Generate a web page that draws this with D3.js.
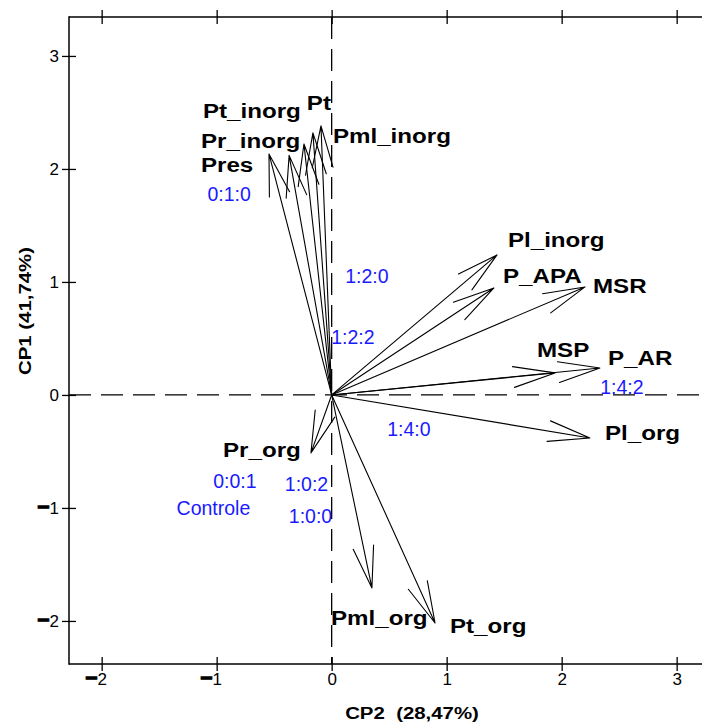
<!DOCTYPE html>
<html>
<head>
<meta charset="utf-8">
<script src="https://cdn.jsdelivr.net/npm/d3@7"></script>
<style>
  html, body { margin: 0; padding: 0; background: #ffffff; }
  svg { display: block; }
  text { font-family: "Liberation Sans", Arial, Helvetica, sans-serif; }
</style>
</head>
<body>
<svg id="chart" width="702" height="725"></svg>
<script>
// Variables (arrows): loadings on CP2 (horizontal) and CP1 (vertical)
const variables = ["Pres", "Pr_inorg", "Pt_inorg", "Pml_inorg", "Pt",
                   "Pl_inorg", "P_APA", "MSR", "MSP", "P_AR",
                   "Pl_org", "Pr_org", "Pml_org", "Pt_org"];
const loadCP2 = [-0.545, -0.37, -0.241, -0.163, -0.093,
                 1.438, 1.411, 2.203, 1.942, 2.333,
                 2.246, -0.18, 0.35, 0.899];
const loadCP1 = [2.133, 2.12, 2.221, 2.319, 2.381,
                 1.239, 0.947, 0.956, 0.195, 0.239,
                 -0.381, -0.513, -1.708, -2.018];
// Where each variable name sits (start of text, baseline), in plot units
const nameCP2 = [-1.137, -1.137, -1.119, 0.011, -0.216,
                 1.533, 1.49, 2.272, 1.785, 2.403,
                 2.377, -0.945, -0.006, 1.029];
const nameCP1 = [1.973, 2.186, 2.451, 2.23, 2.522,
                 1.31, 0.991, 0.903, 0.336, 0.265,
                 -0.398, -0.549, -2.035, -2.106];

// Treatments (scores), labelled at their position
const treatments = ["0:1:0", "1:2:0", "1:2:2", "1:4:2", "1:4:0",
                    "0:0:1", "1:0:2", "Controle", "1:0:0"];
const scoreCP2 = [-0.892, 0.307, 0.185, 2.524, 0.672,
                  -0.841, -0.219, -1.028, -0.184];
const scoreCP1 = [1.779, 1.053, 0.513, 0.071, -0.301,
                  -0.761, -0.788, -1.0, -1.071];

const xTicks = [-2, -1, 0, 1, 2, 3];
const yTicks = [-2, -1, 0, 1, 2, 3];
const xTitle = "CP2  (28,47%)";
const yTitle = "CP1 (41,74%)";

// ---- layout ----
const svg = d3.select("#chart");
const plotLeft = 69, plotTop = 17, plotBottom = 664;
const unitX = 115, unitY = 113;
const xMin = -2.284, xMax = 3.45;
const yMin = -2.381, yMax = 3.345;

const x = d3.scaleLinear().domain([xMin, xMax])
  .range([plotLeft, plotLeft + (xMax - xMin) * unitX]);
const y = d3.scaleLinear().domain([yMin, yMax])
  .range([plotBottom, plotBottom - (yMax - yMin) * unitY]);

const rightEdge = x(xMax);

// Dashed reference lines through the origin
svg.append("line")
  .attr("x1", x(0)).attr("x2", x(0))
  .attr("y1", plotTop).attr("y2", plotBottom)
  .attr("stroke", "#000").attr("stroke-width", 1.3)
  .attr("stroke-dasharray", "22,10");
svg.append("line")
  .attr("x1", plotLeft).attr("x2", rightEdge)
  .attr("y1", y(0)).attr("y2", y(0))
  .attr("stroke", "#000").attr("stroke-width", 1.3)
  .attr("stroke-dasharray", "22,10");

// Frame: left, top and bottom edges
const frame = svg.append("g").attr("stroke", "#000").attr("stroke-width", 1.5);
frame.append("line").attr("x1", plotLeft).attr("x2", plotLeft)
  .attr("y1", plotTop - 0.75).attr("y2", plotBottom + 0.75);
frame.append("line").attr("x1", plotLeft).attr("x2", rightEdge)
  .attr("y1", plotTop).attr("y2", plotTop);
frame.append("line").attr("x1", plotLeft).attr("x2", rightEdge)
  .attr("y1", plotBottom).attr("y2", plotBottom);

// Tick label with a heavy minus sign
function signedLabel(sel) {
  sel.each(function (d) {
    const t = d3.select(this);
    t.text(null);
    if (d < 0) t.append("tspan").attr("font-weight", "bold")
      .attr("font-size", 21).attr("stroke", "#000").attr("stroke-width", 1.2)
      .text("\u2212");
    t.append("tspan").text(Math.abs(d));
  });
}

function styleAxis(g) {
  g.select(".domain").remove();
  g.selectAll(".tick line").attr("stroke", "#000").attr("stroke-width", 1.3);
  g.selectAll(".tick text").attr("fill", "#000")
    .attr("font-size", 17)
    .attr("font-family", "'Liberation Sans', Arial, sans-serif");
}

const tick = 7;
// bottom: labelled ticks crossing the frame
const gB = svg.append("g").attr("transform", `translate(0,${plotBottom})`)
  .call(d3.axisBottom(x).tickValues(xTicks).tickSizeInner(tick).tickSizeOuter(0).tickPadding(2))
  .call(styleAxis);
gB.selectAll(".tick text").attr("text-anchor", "end").attr("x", 4.8).call(signedLabel);
svg.append("g").attr("transform", `translate(0,${plotBottom})`)
  .call(d3.axisTop(x).tickValues(xTicks).tickSizeInner(tick).tickSizeOuter(0).tickFormat(""))
  .call(styleAxis);
// top: ticks only
svg.append("g").attr("transform", `translate(0,${plotTop})`)
  .call(d3.axisTop(x).tickValues(xTicks).tickSizeInner(tick).tickSizeOuter(0).tickFormat(""))
  .call(styleAxis);
svg.append("g").attr("transform", `translate(0,${plotTop})`)
  .call(d3.axisBottom(x).tickValues(xTicks).tickSizeInner(tick).tickSizeOuter(0).tickFormat(""))
  .call(styleAxis);
// left: labelled ticks crossing the frame
const gL = svg.append("g").attr("transform", `translate(${plotLeft},0)`)
  .call(d3.axisLeft(y).tickValues(yTicks).tickSizeInner(tick).tickSizeOuter(0).tickPadding(3))
  .call(styleAxis);
gL.selectAll(".tick text").call(signedLabel);
svg.append("g").attr("transform", `translate(${plotLeft},0)`)
  .call(d3.axisRight(y).tickValues(yTicks).tickSizeInner(tick).tickSizeOuter(0).tickFormat(""))
  .call(styleAxis);

// Axis titles
svg.append("text")
  .attr("transform", `translate(412,719) scale(1.2,1)`)
  .attr("text-anchor", "middle")
  .attr("font-size", 17).attr("font-weight", "bold")
  .style("white-space", "pre")
  .text(xTitle);
svg.append("text")
  .attr("transform", `translate(31,311) rotate(-90) scale(1.2,1)`)
  .attr("text-anchor", "middle")
  .attr("font-size", 17).attr("font-weight", "bold")
  .style("white-space", "pre")
  .text(yTitle);

// Arrows from the origin to each loading, with open heads
const headLen = 43, headAngle = 14 * Math.PI / 180;
const arrows = svg.append("g").attr("stroke", "#000").attr("stroke-width", 1.1)
  .attr("fill", "none").attr("stroke-linecap", "round");
variables.forEach((v, i) => {
  const x0 = x(0), y0 = y(0);
  const x1 = x(loadCP2[i]), y1 = y(loadCP1[i]);
  const back = Math.atan2(y0 - y1, x0 - x1);
  const p = d3.path();
  p.moveTo(x0, y0); p.lineTo(x1, y1);
  p.moveTo(x1 + headLen * Math.cos(back + headAngle), y1 + headLen * Math.sin(back + headAngle));
  p.lineTo(x1, y1);
  p.lineTo(x1 + headLen * Math.cos(back - headAngle), y1 + headLen * Math.sin(back - headAngle));
  arrows.append("path").attr("d", p.toString());
});

// Variable names
svg.append("g").selectAll("text")
  .data(variables)
  .join("text")
  .attr("transform", (d, i) => `translate(${x(nameCP2[i])},${y(nameCP1[i])}) scale(1.15,1)`)
  .attr("font-size", 21).attr("font-weight", "bold").attr("fill", "#000")
  .text(d => d);

// Treatment labels
svg.append("g").selectAll("text")
  .data(treatments)
  .join("text")
  .attr("x", (d, i) => x(scoreCP2[i]))
  .attr("y", (d, i) => y(scoreCP1[i]))
  .attr("dy", "0.36em")
  .attr("text-anchor", "middle")
  .attr("font-size", 19.5).attr("fill", "#1a1aff")
  .text(d => d);
</script>
</body>
</html>
